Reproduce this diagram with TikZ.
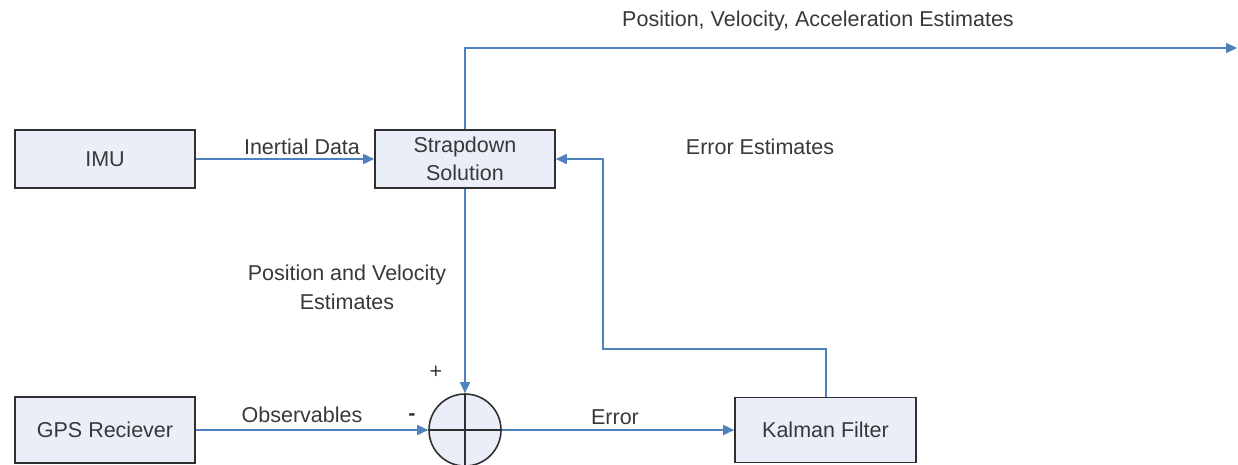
\documentclass[tikz,border=0pt]{standalone}
\usepackage{fontspec}
\setmainfont{Liberation Sans}
\usetikzlibrary{arrows.meta}
\definecolor{lineblue}{HTML}{4F81BD}
\definecolor{boxfill}{HTML}{E9EEF8}
\definecolor{boxdraw}{HTML}{303030}
\definecolor{txt}{HTML}{383838}
\tikzset{
  blk/.style={draw=boxdraw, line width=1.6pt, fill=boxfill, inner sep=0pt, text=txt,
    font=\fontsize{21.5}{28}\selectfont, align=center},
  lbl/.style={text=txt, font=\fontsize{21.5}{29}\selectfont, align=center, inner sep=0pt},
  conn/.style={draw=lineblue, line width=1.6pt, -{Triangle[length=11pt,width=10pt]}},
}
\begin{document}
\begin{tikzpicture}[x=1pt,y=-1pt]
\useasboundingbox (0,0) rectangle (1238,464);
\node[blk, minimum width=180pt, minimum height=58pt] (imu) at (105,159) {IMU};
\node[blk, minimum width=180pt, minimum height=58pt] (sd) at (465,159) {Strapdown\\Solution};
\node[blk, minimum width=180pt, minimum height=66pt] (gps) at (105,430) {GPS Reciever};
\node[blk, minimum width=181pt, minimum height=65pt] (kf) at (825.5,430) {Kalman Filter};
\node[blk, circle, minimum size=72pt] (sum) at (465,430) {};
\draw[boxdraw, line width=1.6pt] (sum.north) -- (sum.south) (sum.west) -- (sum.east);

\coordinate (out) at (1237,48);
\coordinate (c1) at (465,48);
\coordinate (c2) at (826,349);
\coordinate (c3) at (603,349);
\coordinate (c4) at (603,159);

\draw[conn] (imu.east) -- (sd.west);
\draw[conn] (sd.north) -- (c1) -- (out);
\draw[conn] (sd.south) -- (sum.north);
\draw[conn] (gps.east) -- (sum.west);
\draw[conn] (sum.east) -- (kf.west);
\draw[conn] (kf.north -| c2) -- (c2) -- (c3) -- (c4) -- (sd.east);

\node[lbl] (l1) at (302,147) {Inertial Data};
\node[lbl] (l2) at (818,21) {Position, Velocity, Acceleration Estimates};
\node[lbl] (l3) at (760,147) {Error Estimates};
\node[lbl] (l4) at (347,287.5) {Position and Velocity\\Estimates};
\node[lbl] (l5) at (302,415) {Observables};
\node[lbl] (l6) at (615,417) {Error};
\node[lbl] (l7) at (436,372) {+};
\node[lbl, font=\bfseries\fontsize{21.5}{29}\selectfont] (l8) at (412,417) {-};
\end{tikzpicture}
\end{document}
